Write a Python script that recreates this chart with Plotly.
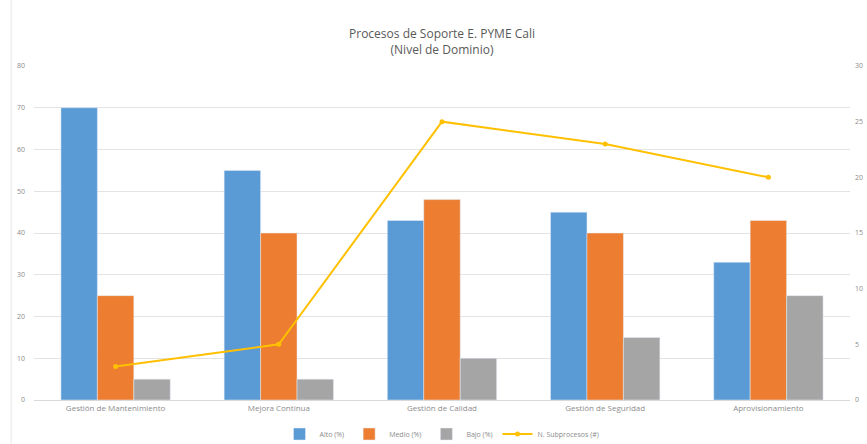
import plotly.graph_objects as go

# Support processes and their mastery levels
categorias = [
    "Gestión de Mantenimiento",
    "Mejora Continua",
    "Gestión de Calidad",
    "Gestión de Seguridad",
    "Aprovisionamiento",
]
alto = [70, 55, 43, 45, 33]
medio = [25, 40, 48, 40, 43]
bajo = [5, 5, 10, 15, 25]
subprocesos = [3, 5, 25, 23, 20]

eje_izq_ticks = [0, 10, 20, 30, 40, 50, 60, 70, 80]
eje_der_ticks = [0, 5, 10, 15, 20, 25, 30]

FONT = "Open Sans"
GRIS_TEXTO = "#8c8c8c"

fig = go.Figure()
fig.add_trace(go.Bar(x=categorias, y=alto, name="Alto (%)", marker_color="#5B9BD5"))
fig.add_trace(go.Bar(x=categorias, y=medio, name="Medio (%)", marker_color="#ED7D31"))
fig.add_trace(go.Bar(x=categorias, y=bajo, name="Bajo (%)", marker_color="#A5A5A5"))
fig.add_trace(go.Scatter(
    x=categorias, y=subprocesos, name="N. Subprocesos (#)", yaxis="y2",
    mode="lines+markers", line=dict(color="#FFC000", width=2),
    marker=dict(color="#FFC000", size=5),
))

fig.update_layout(
    width=867, height=444,
    margin=dict(l=34, r=17, t=66, b=44, autoexpand=False),
    paper_bgcolor="white", plot_bgcolor="white",
    barmode="group", bargap=0.33, bargroupgap=0,
    font=dict(family=FONT, color=GRIS_TEXTO, size=8),
    title=dict(
        text="Procesos de Soporte E. PYME Cali<br>(Nivel de Dominio)",
        x=0.5, xanchor="center", xref="paper",
        y=38 / 444, yref="container", yanchor="middle",
        font=dict(family=FONT, size=12, color="#595959"),
    ),
    xaxis=dict(
        showgrid=False, showline=True, linecolor="#d9d9d9", linewidth=1,
        tickfont=dict(size=8, color=GRIS_TEXTO), ticks="", automargin=False,
    ),
    yaxis=dict(
        range=[0, 80], tickvals=eje_izq_ticks, showgrid=True,
        gridcolor="#e3e3e3", gridwidth=1, zeroline=False, showline=False,
        tickfont=dict(size=7, color=GRIS_TEXTO), ticklabelstandoff=8,
        automargin=False,
    ),
    yaxis2=dict(
        range=[0, 30], tickvals=eje_der_ticks, overlaying="y", side="right",
        showgrid=False, zeroline=False, showline=False,
        tickfont=dict(size=7, color=GRIS_TEXTO), ticklabelstandoff=4,
        automargin=False,
    ),
    legend=dict(
        orientation="h", x=0.5, xanchor="center", xref="paper",
        y=434 / 444, yref="container", yanchor="middle",
        font=dict(size=7, color=GRIS_TEXTO), itemwidth=30,
        traceorder="normal",
    ),
    showlegend=True,
)
# y in container coords is measured from the bottom
fig.layout.title.y = 1 - 38 / 444
fig.layout.legend.y = 1 - 434 / 444

# thin chart-area frame on the left edge
fig.add_shape(type="line", xref="paper", yref="paper", x0=-0.028, x1=-0.028,
              y0=-0.13, y1=1.2, line=dict(color="#e6e6e6", width=1))

fig.write_html("out.html")
